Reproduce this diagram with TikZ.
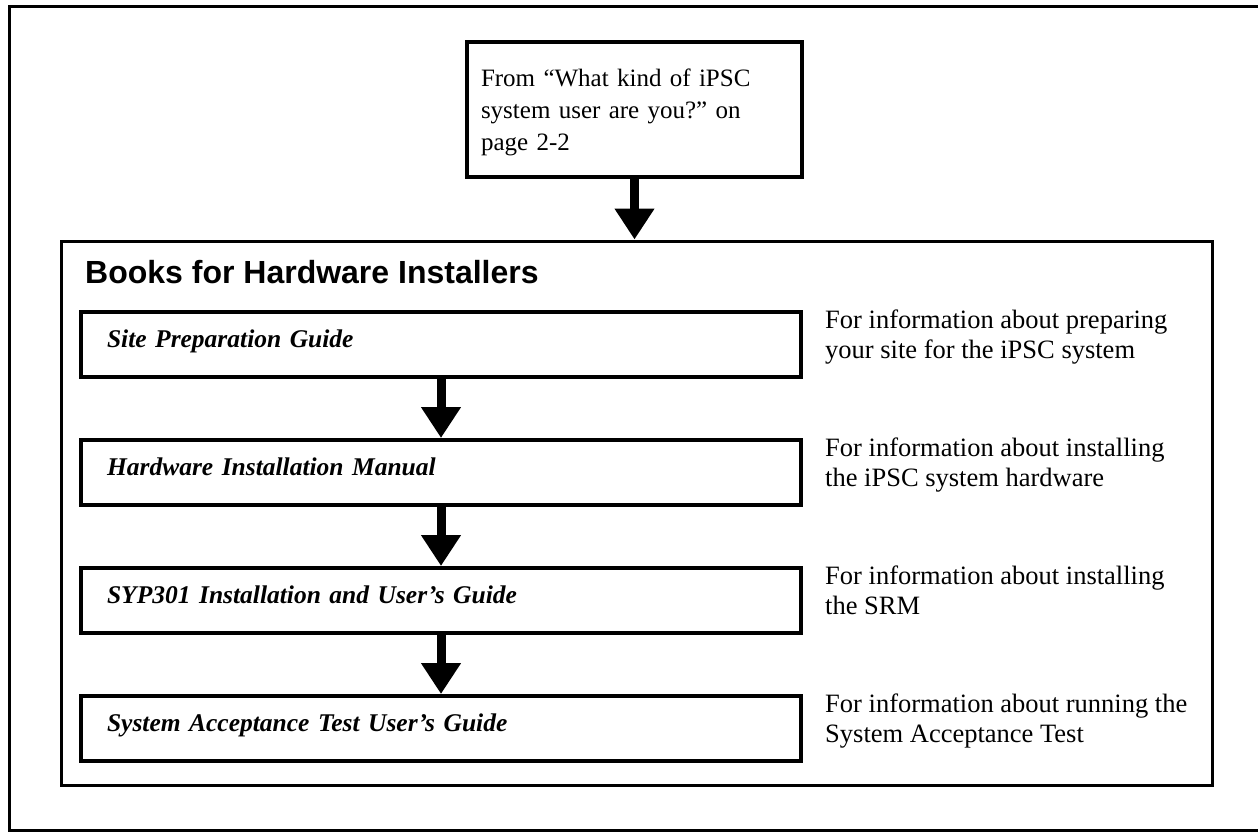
\documentclass[tikz,border=0pt]{standalone}
\usepackage{fontspec}
\setmainfont{Liberation Serif}
\setsansfont{Liberation Sans}
\usetikzlibrary{arrows.meta}

\tikzset{
  startbox/.style={draw, line width=4pt, minimum width=335pt, minimum height=135pt,
    inner xsep=14pt, text width=307pt, text height=23pt, align=left,
    font=\fontsize{25}{32}\selectfont},
  groupbox/.style={draw, line width=3pt, minimum width=1151pt, minimum height=544pt},
  bookbox/.style={draw, line width=4pt, minimum width=720pt, minimum height=65pt,
    inner xsep=26pt, text width=668pt, text height=22.5pt, text depth=17.5pt, align=left,
    font=\fontsize{25.5}{30}\selectfont\bfseries\itshape},
  infotext/.style={anchor=north west, inner sep=0pt, align=left,
    font=\fontsize{26.5}{30}\selectfont},
  flow/.style={line width=9pt, -{Triangle[width=38pt,length=31pt]}},
}

\begin{document}
\begin{tikzpicture}[x=1pt, y=-1pt]
  \useasboundingbox (0,0) rectangle (1258,832);
  % Page frame (open at the right)
  \draw[line width=3pt] (1262,7) -- (9,7) -- (9,830) -- (1262,830);
  % Entry point
  \node[startbox] (start) at (634.5,109.5)
    {From “What kind of iPSC\\system user are you?”\ on\\page 2-2};
  % Group of books
  \node[groupbox] (group) at (636.5,513) {};
  \node[anchor=base west, inner sep=0pt, font=\fontsize{32}{38}\selectfont\sffamily\bfseries]
    (title) at (85,283) {Books for Hardware Installers};
  \draw[flow] (start) -- (start |- group.north);
  % Books and what they are for
  \foreach \n/\top/\book/\info in {
      1/312/{Site Preparation Guide}/{For information about preparing\\your site for the iPSC system},
      2/440/{Hardware Installation Manual}/{For information about installing\\the iPSC system hardware},
      3/568/{SYP301 Installation and User’s Guide}/{For information about installing\\the SRM},
      4/696/{System Acceptance Test User’s Guide}/{For information about running the\\System Acceptance Test}} {
    \node[bookbox] (book\n) at (441,\top+32.5) {\book};
    \node[infotext] (info\n) at (825,\top-2) {\info};
  }
  \foreach \a/\b in {1/2, 2/3, 3/4}
    \draw[flow] (book\a) -- (book\b);
\end{tikzpicture}
\end{document}
